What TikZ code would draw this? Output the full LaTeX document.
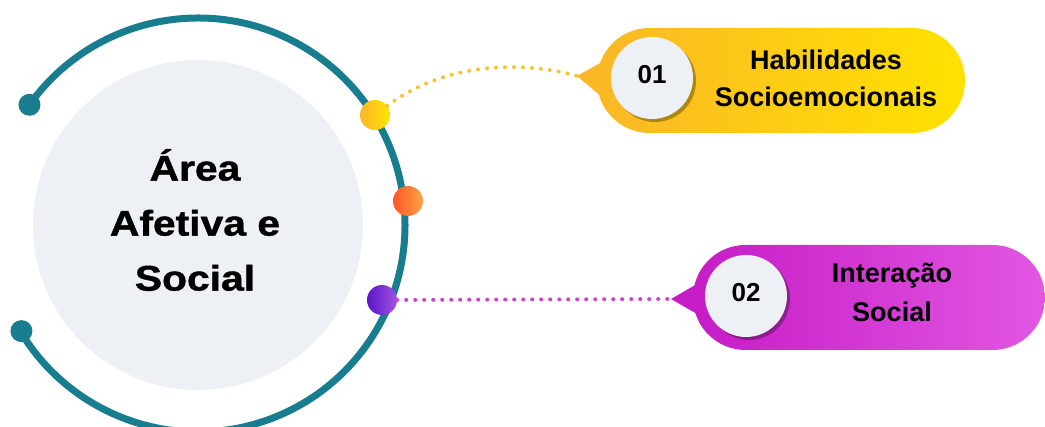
\documentclass[tikz,border=0pt]{standalone}
\usepackage{fontspec}
\setmainfont{Liberation Sans}
\newfontfamily\areafont[FakeStretch=1.15, BoldFeatures={FakeBold=1.2}]{Liberation Sans}
\usetikzlibrary{shadows}
\definecolor{teal1}{HTML}{187D8F}
\definecolor{disc}{HTML}{EDF0F5}
\definecolor{yA}{HTML}{FBB726}
\definecolor{yB}{HTML}{FFE200}
\definecolor{mA}{HTML}{C61CC6}
\definecolor{mB}{HTML}{E257E2}
\definecolor{ydA}{HTML}{FDB52B}
\definecolor{ydB}{HTML}{FFE500}
\definecolor{odA}{HTML}{FF5527}
\definecolor{odB}{HTML}{FFA445}
\definecolor{pdA}{HTML}{5A16C8}
\definecolor{pdB}{HTML}{A352E3}
\definecolor{ydots}{HTML}{FBC226}
\definecolor{pdots}{HTML}{D53BD5}
\tikzset{
  enddot/.style={circle, fill=teal1, minimum size=22pt, inner sep=0pt},
  ringdot/.style={circle, minimum size=30pt, inner sep=0pt},
  pill/.style={rectangle, rounded corners=52.5pt, minimum height=105pt, inner sep=0pt},
  numdisc/.style={circle, fill=disc, minimum size=82pt, inner sep=0pt,
    drop shadow={shadow xshift=3pt, shadow yshift=-3pt, opacity=0.3, fill=black}},
  numtext/.style={font=\bfseries\fontsize{26}{30}\selectfont, text=black},
  boxtext/.style={font=\bfseries\fontsize{27}{32}\selectfont, text=black, anchor=base},
  dotline/.style={line width=4pt, line cap=round, dash pattern=on 0pt off 9pt}
}
\begin{document}
\begin{tikzpicture}[x=1pt,y=1pt]
\useasboundingbox (0,0) rectangle (1045,427);
% central disc and ring
\node[circle, fill=disc, minimum size=330pt, inner sep=0pt] (core) at (198,202) {};
\draw[teal1, line width=7pt] (core.center) ++(144.5:207) arc[start angle=144.5, end angle=-150, radius=207];
\node[enddot] (endA) at ([shift={(144.5:207)}]core.center) {};
\node[enddot] (endB) at ([shift={(-149:206)}]core.center) {};
\node[font=\areafont\bfseries\fontsize{35.5}{55}\selectfont, align=center, text=black] (title) at (195,207) {Área\\Afetiva e\\Social};
% coloured dots on ring
\node[ringdot, left color=ydA, right color=ydB] (dy) at (375,312) {};
\node[ringdot, left color=odA, right color=odB] (do) at (408,226) {};
\node[ringdot, left color=pdA, right color=pdB] (dp) at (382,127) {};
% box 1
\coordinate (tip1) at (577,351);
\fill[yA] (tip1) -- (602,365) -- (602,330) -- cycle;
\node[pill, left color=yA, right color=yB, minimum width=368pt] (box1) at (781,346.5) {};
\node[numdisc] (n1) at (652,349) {};
\node[numtext] (t1) at (652,352) {01};
\node[boxtext] (l1a) at (826,357) {Habilidades};
\node[boxtext] (l1b) at (826,320) {Socioemocionais};
% box 2
\coordinate (tip2) at (671,128);
\fill[mA] (tip2) -- (697,143) -- (697,113) -- cycle;
\node[pill, left color=mA, right color=mB, minimum width=352pt] (box2) at (869,129.5) {};
\node[numdisc] (n2) at (746,131) {};
\node[numtext] (t2) at (746,134) {02};
\node[boxtext] (l2a) at (892,144) {Interação};
\node[boxtext] (l2b) at (892,105) {Social};
% connectors
\draw[dotline, ydots] (dy) .. controls (455,372) and (540,362) .. (tip1);
\draw[dotline, pdots] (dp) -- (tip2);
\end{tikzpicture}
\end{document}
